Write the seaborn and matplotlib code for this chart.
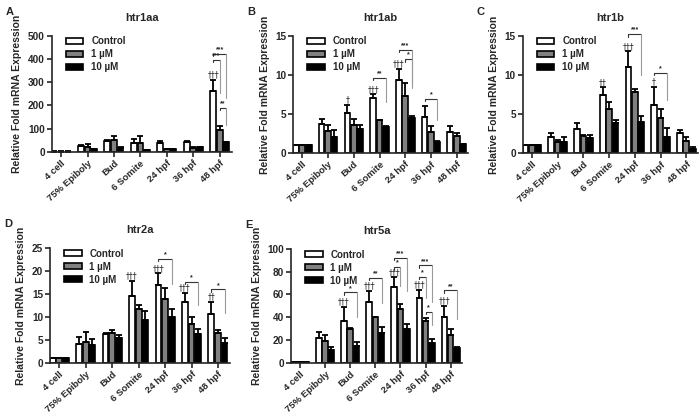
import numpy as np
import pandas as pd
import matplotlib
matplotlib.use('Agg')
import matplotlib.pyplot as plt
from matplotlib.patches import Patch
import seaborn as sns

stages = ['4 cell', '75% Epiboly', 'Bud', '6 Somite', '24 hpf', '36 hpf', '48 hpf']
treatments = ['Control', '1 µM', '10 µM']
colors = ['white', '#808080', 'black']

# htr1aa
htr1aa_ctrl = [1, 24, 46, 40, 36, 43, 263]
htr1aa_low = [1, 21.5, 50, 40, 10, 17, 96]
htr1aa_high = [1, 11, 17, 7, 10, 20, 41]
htr1aa_ctrl_err = [0.5, 7, 3, 16, 11, 4, 48]
htr1aa_low_err = [0.5, 12, 17, 27, 1, 3, 17]
htr1aa_high_err = [0.3, 2, 3, 1, 1, 2, 3]

# htr1ab
htr1ab_ctrl = [1, 3.7, 5.1, 7.1, 9.3, 4.6, 2.65]
htr1ab_low = [1, 2.8, 3.6, 4.2, 7.3, 2.75, 2.15]
htr1ab_high = [1, 2.1, 3.05, 3.35, 4.5, 1.4, 1.1]
htr1ab_ctrl_err = [0.02, 0.7, 1.1, 0.4, 1.5, 1.4, 0.85]
htr1ab_low_err = [0.02, 0.8, 0.7, 0.05, 1.7, 0.75, 0.4]
htr1ab_high_err = [0.02, 0.9, 0.5, 0.05, 0.2, 0.1, 0.05]

# htr1b
htr1b_ctrl = [1, 2.0, 3.1, 7.4, 11.0, 6.1, 2.6]
htr1b_low = [1, 1.4, 2.15, 5.7, 7.8, 4.5, 1.6]
htr1b_high = [1, 1.4, 1.9, 3.9, 4.0, 2.1, 0.5]
htr1b_ctrl_err = [0.02, 0.6, 0.7, 1.0, 2.0, 2.4, 0.3]
htr1b_low_err = [0.02, 0.3, 0.2, 0.8, 0.4, 1.1, 0.4]
htr1b_high_err = [0.02, 0.6, 0.4, 0.3, 0.8, 1.1, 0.3]

# htr2a
htr2a_ctrl = [1, 4.0, 6.2, 14.5, 17.0, 13.2, 10.6]
htr2a_low = [1, 4.6, 6.5, 11.7, 13.9, 8.5, 6.5]
htr2a_high = [1, 3.9, 5.5, 9.3, 9.9, 6.2, 4.3]
htr2a_ctrl_err = [0.05, 1.6, 0.4, 3.4, 2.5, 2.0, 2.6]
htr2a_low_err = [0.05, 2.2, 0.7, 0.9, 2.3, 1.4, 0.7]
htr2a_high_err = [0.05, 1.3, 0.5, 2.0, 1.9, 1.1, 1.2]

# htr5a
htr5a_ctrl = [1, 22, 37, 53, 67, 57, 40.5]
htr5a_low = [1, 19.5, 30, 40, 47.5, 37, 24.5]
htr5a_high = [1, 11, 14.5, 26, 29.5, 17, 13]
htr5a_ctrl_err = [0.1, 5, 12, 10, 8, 7, 9.5]
htr5a_low_err = [0.1, 4.5, 0.5, 0.5, 4, 2, 5.5]
htr5a_high_err = [0.1, 3, 3.5, 5, 4.5, 4, 0.5]

# daggers above control bars: stage index -> label
htr1aa_dag = {6: '†††'}
htr1ab_dag = {2: '†', 3: '†††', 4: '†††'}
htr1b_dag = {3: '††', 4: '†††', 5: '†'}
htr2a_dag = {3: '†††', 4: '†††', 5: '†††', 6: '††'}
htr5a_dag = {2: '†††', 3: '†††', 4: '†††', 5: '†††', 6: '†††'}

# significance brackets: (stage index, bar i, bar j, label, height)
htr1aa_sig = [(6, 0, 1, '***', 396), (6, 0, 2, '***', 422), (6, 1, 2, '**', 190)]
htr1ab_sig = [(3, 0, 2, '**', 9.6), (4, 0, 2, '***', 13.2), (4, 1, 2, '*', 12.0), (5, 0, 2, '*', 6.9)]
htr1b_sig = [(4, 0, 2, '***', 15.2), (5, 0, 2, '*', 10.3)]
htr2a_sig = [(4, 0, 2, '*', 22.7), (5, 0, 2, '*', 17.7), (6, 0, 2, '*', 16.0)]
htr5a_sig = [(2, 0, 2, '*', 61.9), (3, 0, 2, '**', 74.6), (4, 0, 1, '*', 83.9), (4, 0, 2, '***', 92.4),
             (5, 0, 1, '*', 75.4), (5, 0, 2, '***', 85.6), (5, 1, 2, '*', 45), (6, 0, 2, '**', 63.6)]

panels = [
    ('A', 'htr1aa', [htr1aa_ctrl, htr1aa_low, htr1aa_high], [htr1aa_ctrl_err, htr1aa_low_err, htr1aa_high_err],
     htr1aa_dag, htr1aa_sig, np.arange(0, 501, 100), [0.074, 0.636, 0.257, 0.278]),
    ('B', 'htr1ab', [htr1ab_ctrl, htr1ab_low, htr1ab_high], [htr1ab_ctrl_err, htr1ab_low_err, htr1ab_high_err],
     htr1ab_dag, htr1ab_sig, np.arange(0, 16, 5), [0.419, 0.633, 0.250, 0.281]),
    ('C', 'htr1b', [htr1b_ctrl, htr1b_low, htr1b_high], [htr1b_ctrl_err, htr1b_low_err, htr1b_high_err],
     htr1b_dag, htr1b_sig, np.arange(0, 16, 5), [0.747, 0.633, 0.250, 0.281]),
    ('D', 'htr2a', [htr2a_ctrl, htr2a_low, htr2a_high], [htr2a_ctrl_err, htr2a_low_err, htr2a_high_err],
     htr2a_dag, htr2a_sig, np.arange(0, 26, 5), [0.0714, 0.13, 0.257, 0.275]),
    ('E', 'htr5a', [htr5a_ctrl, htr5a_low, htr5a_high], [htr5a_ctrl_err, htr5a_low_err, htr5a_high_err],
     htr5a_dag, htr5a_sig, np.arange(0, 101, 20), [0.416, 0.13, 0.244, 0.273]),
]

sns.set_style('ticks')
plt.rcParams['font.family'] = ['Liberation Sans', 'DejaVu Sans']
plt.rcParams['font.weight'] = 'bold'

fig = plt.figure(figsize=(7, 4.17), dpi=100)

for letter, gene, means, errs, dags, sigs, yticks, pos in panels:
    ax = fig.add_axes(pos)
    df = pd.DataFrame({
        'stage': np.tile(stages, 3),
        'treatment': np.repeat(treatments, len(stages)),
        'value': np.concatenate(means),
    })
    sns.barplot(data=df, x='stage', y='value', hue='treatment', order=stages, hue_order=treatments,
                palette=colors, edgecolor='black', linewidth=1.2, errorbar=None,
                width=0.75, gap=0.12, legend=False, ax=ax)

    bar_conts = list(ax.containers)
    centers = []
    for k, cont in enumerate(bar_conts):
        xs = np.array([b.get_x() + b.get_width() / 2 for b in cont])
        centers.append(xs)
        m = np.array(means[k])
        e = np.array(errs[k])
        ax.errorbar(xs, m, yerr=[np.zeros_like(e), e], fmt='none', ecolor='black',
                    elinewidth=1.3, capsize=2.2, capthick=1.3, zorder=1)

    ymax = yticks[-1]
    ax.set_ylim(0, ymax)
    ax.set_yticks(yticks)
    ax.set_xlim(-0.35, 6.45)

    for g, lab in dags.items():
        top = means[0][g] + errs[0][g]
        ax.text(centers[0][g], top + 0.005 * ymax, lab, ha='center', va='bottom', fontsize=5.5,
                fontweight='normal', family='DejaVu Sans')

    for g, i, j, lab, y in sigs:
        xi, xj = centers[i][g], centers[j][g]
        top_j = means[j][g] + errs[j][g]
        ax.plot([xi, xi, xj], [y - 0.02 * ymax, y, y], color='#333333', lw=0.8, clip_on=False)
        ax.plot([xj, xj], [y, (y + top_j) / 2], color='#999999', lw=0.8, clip_on=False)
        ax.text((xi + xj) / 2, y + 0.005 * ymax, lab, ha='center', va='bottom', fontsize=5)

    ax.set_xlabel('')
    ax.set_ylabel('Relative Fold mRNA Expression', fontsize=7.5, fontweight='bold')
    ax.set_xticks(range(len(stages)))
    ax.set_xticklabels(stages, rotation=42, ha='right', rotation_mode='anchor', fontsize=6.8,
                       fontweight='bold')
    ax.tick_params(axis='y', labelsize=7.2, width=1.2, length=3.5, pad=1.5)
    ax.tick_params(axis='x', width=1.2, length=3.5, pad=1.5)
    for s in ['left', 'bottom']:
        ax.spines[s].set_linewidth(1.2)
    sns.despine(ax=ax)

    handles = [Patch(facecolor=c, edgecolor='black', linewidth=1.2, label=t) for c, t in zip(colors, treatments)]
    ax.legend(handles=handles, loc='upper left', bbox_to_anchor=(0.03, 1.07), frameon=False,
              fontsize=7, handlelength=1.8, handleheight=0.6, labelspacing=0.3, handletextpad=0.8)

    ax.set_title(gene, fontsize=8, fontweight='bold', pad=11)
    bb = ax.get_position()
    fig.text(bb.x0 - 0.066, bb.y1 + 0.058, letter, fontsize=8, fontweight='bold', va='center')

fig.savefig('out.png', dpi=100)
